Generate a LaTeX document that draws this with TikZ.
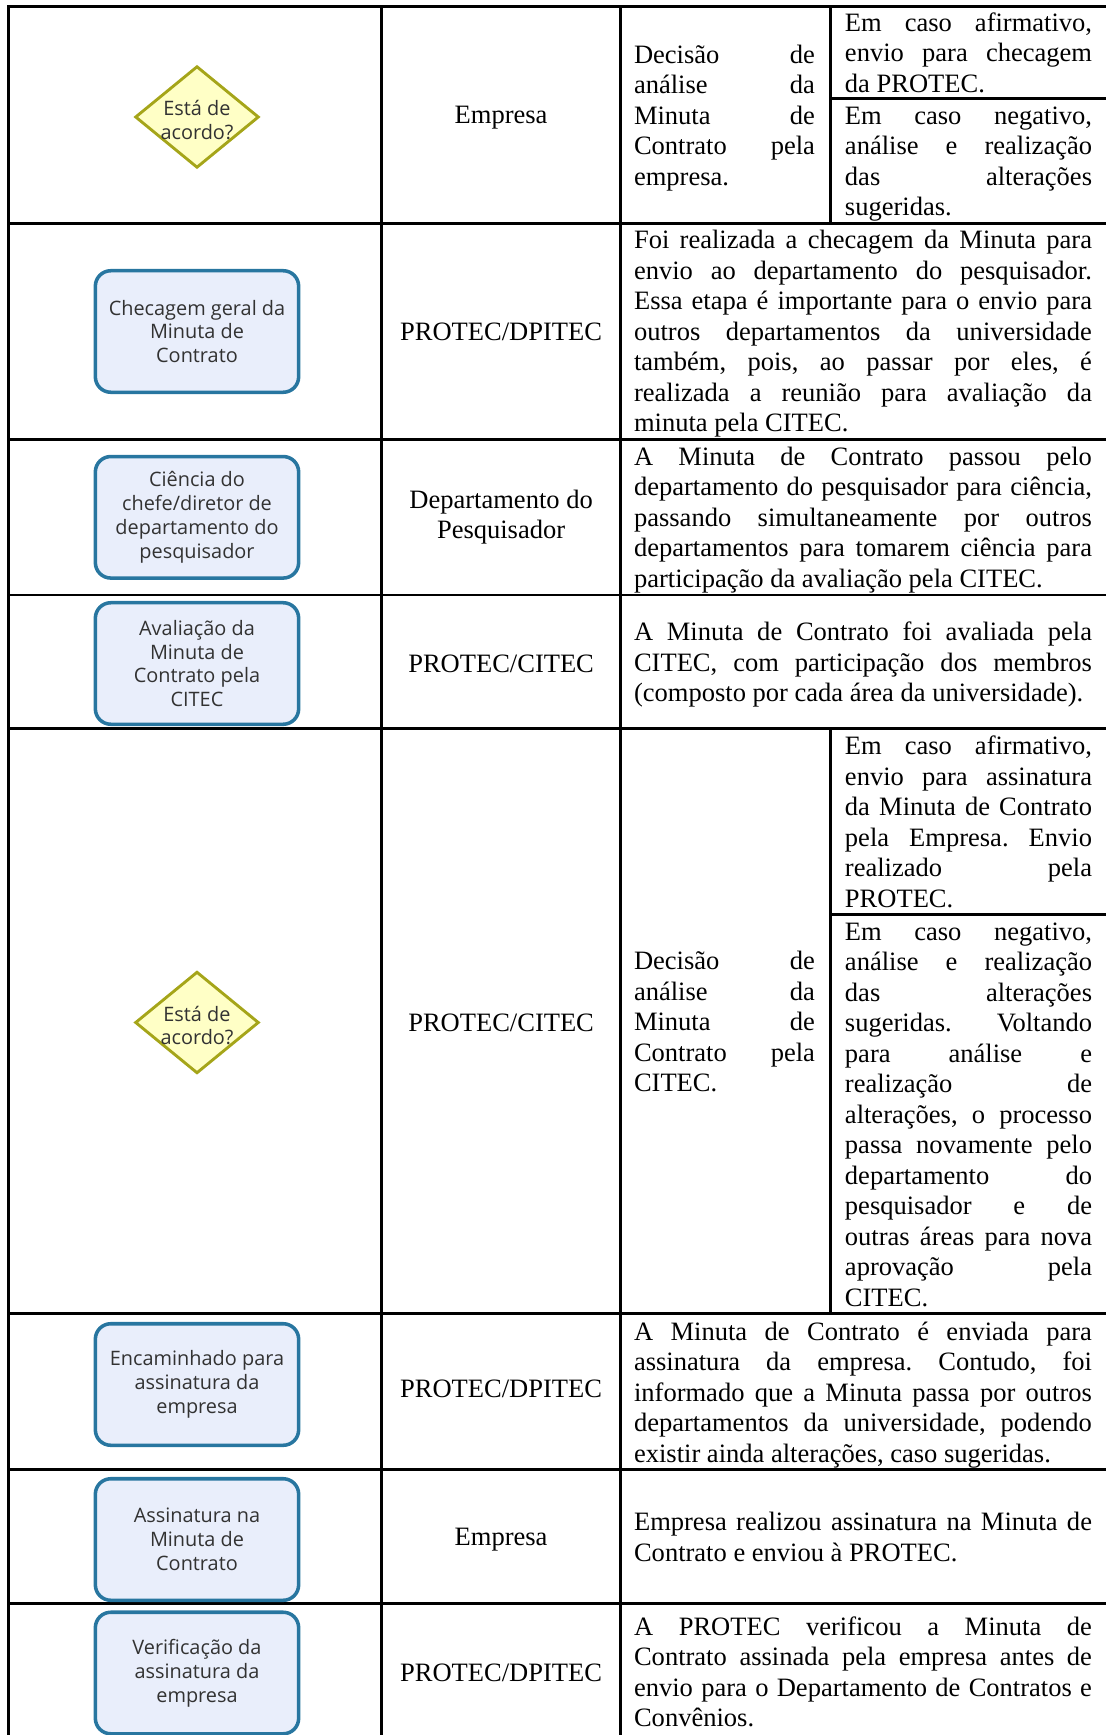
\documentclass[tikz,border=0pt]{standalone}
\usepackage{fontspec}
\setmainfont{Liberation Serif}
\newfontfamily\boxfont{Open Sans}
\usetikzlibrary{positioning,shapes.geometric}
\definecolor{taskline}{RGB}{40,118,160}
\definecolor{taskfill}{RGB}{233,238,251}
\definecolor{askline}{RGB}{165,165,25}
\definecolor{askfill}{RGB}{255,255,198}
\definecolor{boxtext}{RGB}{50,50,50}
\frenchspacing

\begin{document}
\begin{tikzpicture}[x=0.4525pt ,y=-0.4525pt ,node distance =137.6pt ,on grid ,
line width=1.3pt ,
task/.style ={ rectangle ,rounded corners=7pt ,draw=taskline ,fill=taskfill ,
 line width=1.6pt ,minimum width=92pt ,minimum height=55pt ,inner sep=0pt ,
 align=center ,text=boxtext ,font=\boxfont\fontsize{9}{10.8}\selectfont},
ask/.style ={ diamond ,draw=askline ,fill=askfill ,line width=1.3pt ,
 minimum width=56pt ,minimum height=46pt ,inner sep=0pt},
asktext/.style ={ align=center ,text=boxtext ,inner sep=0pt ,
 font=\boxfont\fontsize{9}{10.8}\selectfont},
who/.style ={ align=center ,inner sep=0pt ,font=\fontsize{12}{13.8}\selectfont},
desc/.style ={ text width=207.2pt ,align=justify ,inner sep=0pt ,
 font=\fontsize{12}{13.8}\selectfont ,
 execute at begin node=\sloppy\frenchspacing\strut ,execute at end node=\strut},
half/.style ={ desc ,text width=81.9pt},
case/.style ={ desc ,text width=111.8pt}]
\useasboundingbox (0,0) rectangle (1106,1735);
\foreach \y in {6.6,223.4,439.1,595,728.9,1313.9,1469.9,1603.7}
  \draw[line cap=rect] (8.8,\y) -- (1106,\y);
\foreach \x in {8.8,381.6,620.5}
  \draw[line cap=rect] (\x,6.6) -- (\x,1735);
\draw (830.6,6.6) -- (830.6,223.4) (830.6,728.9) -- (830.6,1313.9);
\draw (830.6,98.4) -- (1106,98.4) (830.6,914.7) -- (1106,914.7);

\node[ask] (Q1) at (197,117) {};
\node[asktext] (A1) at (197,120) {Está de\\acordo?};
\node[who] (P1) [right=of Q1, yshift=-0.5pt] {Empresa};
\node[half] (D1) at (724.5,118) {Decisão de\linebreak análise da\linebreak Minuta de\linebreak Contrato pela\linebreak empresa.};
\node[case] (Y1) at (968.5,55.5) {Em caso afirmativo,\linebreak envio para checagem\linebreak da PROTEC.};
\node[case] (N1) at (968.5,163.9) {Em caso negativo,\linebreak análise e realização\linebreak das alterações\linebreak sugeridas.};

\node[task] (T2) at (197,331.5) {Checagem geral da\\Minuta de\\Contrato};
\node[who] (P2) [right=of T2] {PROTEC/DPITEC};
\node[desc] (D2) at (863,334.3) {Foi realizada a checagem da Minuta para\linebreak envio ao departamento do pesquisador.\linebreak Essa etapa é importante para o envio para\linebreak outros departamentos da universidade\linebreak também, pois, ao passar por eles, é\linebreak realizada a reunião para avaliação da\linebreak minuta pela CITEC.};

\node[task] (T3) at (197,517.3) {Ciência do\\chefe/diretor de\\departamento do\\pesquisador};
\node[who] (P3) [right=of T3] {Departamento do\\Pesquisador};
\node[desc] (D3) at (863,520) {A Minuta de Contrato passou pelo\linebreak departamento do pesquisador para ciência,\linebreak passando simultaneamente por outros\linebreak departamentos para tomarem ciência para\linebreak participação da avaliação pela CITEC.};

\node[task] (T4) at (197,663.5) {Avaliação da\\Minuta de\\Contrato pela\\CITEC};
\node[who] (P4) [right=of T4] {PROTEC/CITEC};
\node[desc] (D4) at (863,665) {A Minuta de Contrato foi avaliada pela\linebreak CITEC, com participação dos membros\linebreak (composto por cada área da universidade).};

\node[ask] (Q5) at (197,1022.5) {};
\node[asktext] (A5) at (197,1025.5) {Está de\\acordo?};
\node[who] (P5) [right=of Q5] {PROTEC/CITEC};
\node[half] (D5) at (724.5,1024.4) {Decisão de\linebreak análise da\linebreak Minuta de\linebreak Contrato pela\linebreak CITEC.};
\node[case] (Y5) at (968.5,825) {Em caso afirmativo,\linebreak envio para assinatura\linebreak da Minuta de Contrato\linebreak pela Empresa. Envio\linebreak realizado pela\linebreak PROTEC.};
\node[case] (N5) at (968.5,1117.3) {Em caso negativo,\linebreak análise e realização\linebreak das alterações\linebreak sugeridas. Voltando\linebreak para análise e\linebreak realização de\linebreak alterações, o processo\linebreak passa novamente pelo\linebreak departamento do\linebreak pesquisador e de\linebreak outras áreas para nova\linebreak aprovação pela\linebreak CITEC.};

\node[task] (T6) at (197,1384.5) {Encaminhado para\\assinatura da\\empresa};
\node[who] (P6) [right=of T6, yshift=-2pt] {PROTEC/DPITEC};
\node[desc] (D6) at (863,1394.9) {A Minuta de Contrato é enviada para\linebreak assinatura da empresa. Contudo, foi\linebreak informado que a Minuta passa por outros\linebreak departamentos da universidade, podendo\linebreak existir ainda alterações, caso sugeridas.};

\node[task] (T7) at (197,1539.5) {Assinatura na\\Minuta de\\Contrato};
\node[who] (P7) [right=of T7] {Empresa};
\node[desc] (D7) at (863,1539.8) {Empresa realizou assinatura na Minuta de\linebreak Contrato e enviou à PROTEC.};

\node[task] (T8) at (197,1673) {Verificação da\\assinatura da\\empresa};
\node[who] (P8) [right=of T8] {PROTEC/DPITEC};
\node[desc] (D8) at (863,1675) {A PROTEC verificou a Minuta de\linebreak Contrato assinada pela empresa antes de\linebreak envio para o Departamento de Contratos e\linebreak Convênios.};
\end{tikzpicture}
\end{document}
